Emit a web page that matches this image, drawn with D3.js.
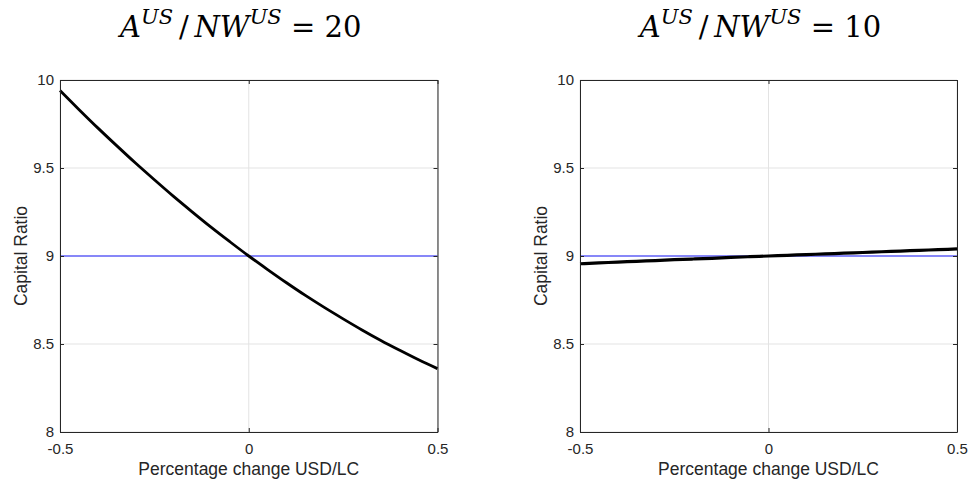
<!DOCTYPE html>
<html>
<head>
<meta charset="utf-8">
<script src="https://cdn.jsdelivr.net/npm/d3@7"></script>
<style>
  html, body { margin: 0; padding: 0; background: #fff; }
  svg { display: block; }
</style>
</head>
<body>
<div id="chart"></div>
<script>
// ---- data ----
const xValues = [-0.5, -0.45, -0.4, -0.35, -0.3, -0.25, -0.2, -0.15, -0.1, -0.05, 0,
                 0.05, 0.1, 0.15, 0.2, 0.25, 0.3, 0.35, 0.4, 0.45, 0.5];
const ratio20 = [9.94, 9.833, 9.728, 9.627, 9.528, 9.433, 9.34, 9.251, 9.164, 9.081, 9.0,
                 8.923, 8.848, 8.776, 8.708, 8.643, 8.58, 8.52, 8.464, 8.41, 8.36];
const ratio10 = [8.956, 8.961, 8.965, 8.970, 8.974, 8.979, 8.983, 8.987, 8.992, 8.996, 9.0,
                 9.004, 9.008, 9.012, 9.016, 9.020, 9.024, 9.028, 9.032, 9.036, 9.040];
const targetRatio = 9;
const panelTitles = ["20", "10"];
const xTicks = [-0.5, 0, 0.5];
const xTickLabels = ["-0.5", "0", "0.5"];
const yTicks = [8, 8.5, 9, 9.5, 10];
const yTickLabels = ["8", "8.5", "9", "9.5", "10"];
const xDomain = [-0.5, 0.5];
const yDomain = [8, 10];
const xLabel = "Percentage change USD/LC";
const yLabel = "Capital Ratio";

const W = 969, H = 482;
const svg = d3.select("#chart").append("svg").attr("width", W).attr("height", H);

const panels = [
  { left: 60, right: 437.5, series: ratio20, title: panelTitles[0], lw: 2.8 },
  { left: 580, right: 957, series: ratio10, title: panelTitles[1], lw: 3.2 }
];
const plotTop = 80, plotBottom = 432;
const axisColor = "#262626";
const font = "'Liberation Sans', Arial, Helvetica, sans-serif";

panels.forEach(p => {
  const x = d3.scaleLinear().domain(xDomain).range([p.left, p.right]);
  const y = d3.scaleLinear().domain(yDomain).range([plotBottom, plotTop]);
  const g = svg.append("g");

  // grid
  g.append("g").selectAll("line").data(xTicks).join("line")
    .attr("x1", d => x(d)).attr("x2", d => x(d)).attr("y1", plotTop).attr("y2", plotBottom)
    .attr("stroke", "#e3e3e3").attr("stroke-width", 1);
  g.append("g").selectAll("line").data(yTicks).join("line")
    .attr("y1", d => y(d)).attr("y2", d => y(d)).attr("x1", p.left).attr("x2", p.right)
    .attr("stroke", "#e3e3e3").attr("stroke-width", 1);

  // target line
  g.append("line")
    .attr("x1", x(xDomain[0])).attr("x2", x(xDomain[1]))
    .attr("y1", y(targetRatio)).attr("y2", y(targetRatio))
    .attr("stroke", "#1f1fff").attr("stroke-width", 1.2);

  // curve
  const line = d3.line().x((d, i) => x(xValues[i])).y(d => y(d)).curve(d3.curveMonotoneX);
  g.append("path").datum(p.series)
    .attr("d", line).attr("fill", "none").attr("stroke", "#000")
    .attr("stroke-width", p.lw).attr("stroke-linejoin", "round");

  // axes (inward ticks on all sides)
  const tickLen = 4;
  const axB = d3.axisBottom(x).tickValues(xTicks).tickFormat((d, i) => xTickLabels[i])
    .tickSizeInner(-tickLen).tickSizeOuter(0).tickPadding(11);
  const axL = d3.axisLeft(y).tickValues(yTicks).tickFormat((d, i) => yTickLabels[i])
    .tickSizeInner(-tickLen).tickSizeOuter(0).tickPadding(6);
  const axT = d3.axisTop(x).tickValues(xTicks).tickFormat("").tickSizeInner(-tickLen).tickSizeOuter(0);
  const axR = d3.axisRight(y).tickValues(yTicks).tickFormat("").tickSizeInner(-tickLen).tickSizeOuter(0);

  [[axB, `translate(0,${plotBottom})`], [axL, `translate(${p.left},0)`],
   [axT, `translate(0,${plotTop})`], [axR, `translate(${p.right},0)`]].forEach(([ax, tr]) => {
    const a = g.append("g").attr("transform", tr).call(ax);
    a.select(".domain").attr("stroke", axisColor).attr("stroke-width", 1);
    a.selectAll(".tick line").attr("stroke", axisColor);
    a.selectAll("text").attr("fill", axisColor).style("font-family", font).style("font-size", "15px");
  });

  // axis labels
  g.append("text")
    .attr("x", (p.left + p.right) / 2).attr("y", 475)
    .attr("text-anchor", "middle").attr("fill", axisColor)
    .style("font-family", font).style("font-size", "17.5px").text(xLabel);
  g.append("text")
    .attr("transform", `translate(${p.left - 33},${(plotTop + plotBottom) / 2}) rotate(-90)`)
    .attr("text-anchor", "middle").attr("fill", axisColor)
    .style("font-family", font).style("font-size", "17.5px").text(yLabel);

  // title: A^{US}/NW^{US} = N
  const t = g.append("text")
    .attr("x", (p.left + p.right) / 2 - 8).attr("y", 37)
    .attr("text-anchor", "middle").attr("fill", "#000")
    .style("font-family", "'DejaVu Serif', 'Liberation Serif', serif").style("font-size", "29px");
  t.append("tspan").style("font-style", "italic").text("A");
  t.append("tspan").style("font-style", "italic").style("font-size", "21px").attr("dy", -13).text("US");
  t.append("tspan").attr("dy", 13).text("\u2009/\u2009");
  t.append("tspan").style("font-style", "italic").text("NW");
  t.append("tspan").style("font-style", "italic").style("font-size", "21px").attr("dy", -13).text("US");
  t.append("tspan").attr("dy", 13).text(" = " + p.title);
});
</script>
</body>
</html>
